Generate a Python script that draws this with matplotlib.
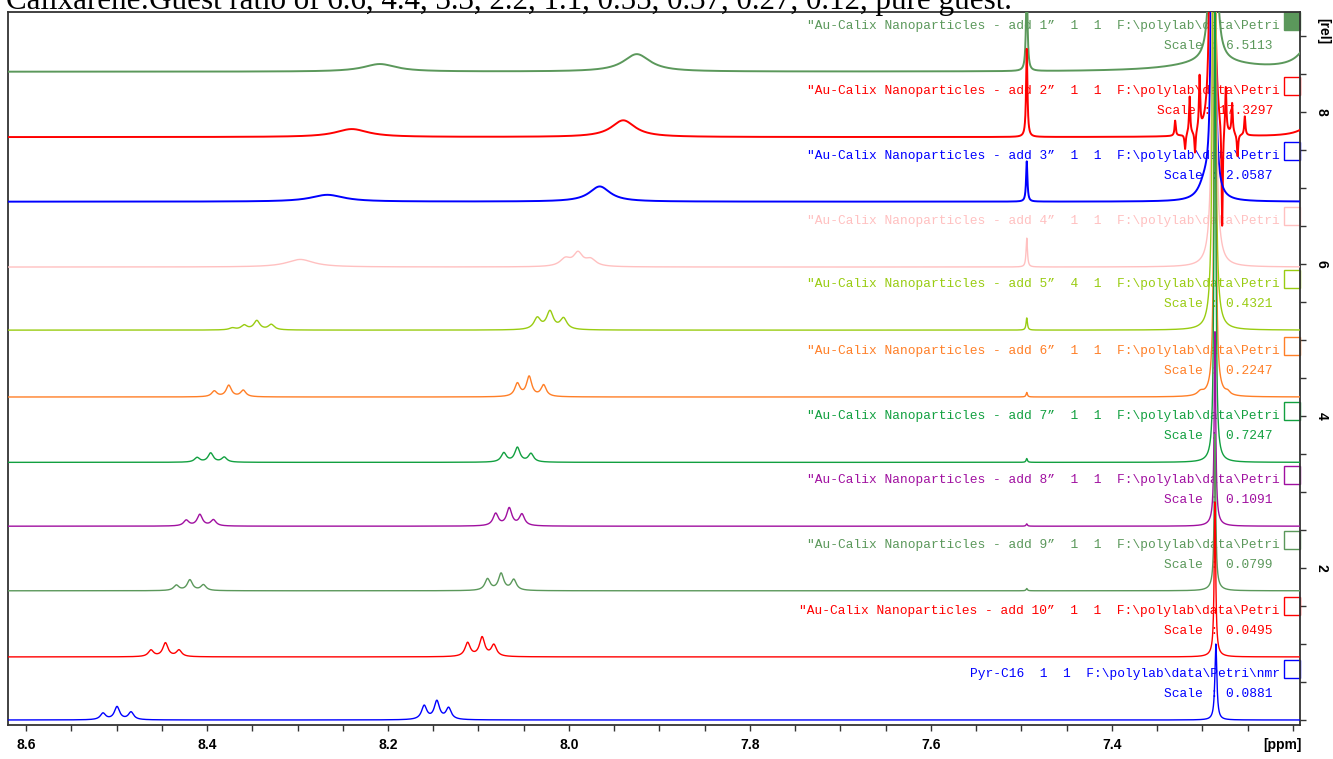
import numpy as np
import matplotlib.pyplot as plt
from matplotlib.patches import Rectangle
from matplotlib.ticker import MultipleLocator, FixedLocator, FormatStrFormatter

# titulo (cortado arriba en la imagen original)
title = 'Calixarene:Guest ratio of 6.6, 4.4, 3.3, 2.2, 1.1, 0.55, 0.37, 0.27, 0.12, pure guest.'

names = ['"Au-Calix Nanoparticles - add 1\u201d', '"Au-Calix Nanoparticles - add 2\u201d',
         '"Au-Calix Nanoparticles - add 3\u201d', '"Au-Calix Nanoparticles - add 4\u201d',
         '"Au-Calix Nanoparticles - add 5\u201d', '"Au-Calix Nanoparticles - add 6\u201d',
         '"Au-Calix Nanoparticles - add 7\u201d', '"Au-Calix Nanoparticles - add 8\u201d',
         '"Au-Calix Nanoparticles - add 9\u201d', '"Au-Calix Nanoparticles - add 10\u201d',
         'Pyr-C16']
expnos = ['1  1', '1  1', '1  1', '1  1', '4  1', '1  1', '1  1', '1  1', '1  1', '1  1', '1  1']
paths = ['F:\\polylab\\data\\Petri'] * 10 + ['F:\\polylab\\data\\Petri\\nmr']
scales = ['6.5113', '17.3297', '2.0587', '', '0.4321', '0.2247', '0.7247',
          '0.1091', '0.0799', '0.0495', '0.0881']
offsets = [8.53, 7.67, 6.82, 5.96, 5.13, 4.25, 3.39, 2.55, 1.70, 0.83, 0.0]
colors = ['#5b985b', '#ff0000', '#0000ff', '#ffc0c0', '#99cc11', '#ff7f27',
          '#12a040', '#a010a0', '#5b985b', '#ff0000', '#0000ff']
widths = [1.4, 1.4, 1.4, 1.0, 1.0, 1.0, 1.0, 1.0, 1.0, 1.0, 1.0]
xticks_ppm = [8.6, 8.4, 8.2, 8.0, 7.8, 7.6, 7.4]

# picos: (ppm, altura, semiancho)
pk_add1 = [(8.209, 0.10, 0.022), (7.925, 0.23, 0.018), (7.494, 1.2, 0.0010),
           (7.288, 30.0, 0.0010), (7.288, 0.12, 0.05), (7.17, 0.96, 0.012)]
pk_add2 = [(8.240, 0.105, 0.022), (7.940, 0.22, 0.016), (7.494, 1.16, 0.0009),
           (7.289, 30.0, 0.0009), (7.330, 0.2, 0.0008), (7.319, -0.2, 0.0008),
           (7.314, 0.5, 0.0008), (7.308, -0.3, 0.0008), (7.303, 0.7, 0.0008),
           (7.278, -1.4, 0.0008), (7.274, 0.6, 0.0008), (7.267, 0.4, 0.0008),
           (7.261, -0.3, 0.0008), (7.253, 0.25, 0.0008), (7.17, 0.4, 0.012)]
pk_add3 = [(8.267, 0.09, 0.022), (7.966, 0.20, 0.014), (7.494, 0.53, 0.0009),
           (7.288, 30.0, 0.0008), (7.297, 0.22, 0.008)]
pk_add4 = [(8.297, 0.10, 0.018), (8.004, 0.10, 0.007), (7.990, 0.17, 0.006),
           (7.976, 0.09, 0.007), (7.494, 0.38, 0.0009), (7.287, 30.0, 0.0008),
           (7.287, 0.2, 0.006)]
pk_add5 = [(8.372, 0.025, 0.004), (8.359, 0.06, 0.004), (8.345, 0.12, 0.004),
           (8.329, 0.07, 0.004), (8.035, 0.15, 0.0045), (8.021, 0.235, 0.0045),
           (8.006, 0.145, 0.0045), (7.494, 0.16, 0.0009), (7.287, 30.0, 0.0007),
           (7.287, 0.2, 0.005)]
pk_add6 = [(8.392, 0.075, 0.0035), (8.376, 0.15, 0.0035), (8.360, 0.085, 0.0035),
           (8.057, 0.17, 0.0035), (8.044, 0.26, 0.0035), (8.028, 0.15, 0.0035),
           (7.494, 0.06, 0.0009), (7.286, 8.0, 0.0010), (7.286, 0.12, 0.006),
           (7.302, 0.05, 0.004), (7.272, 0.04, 0.003)]
pk_add7 = [(8.411, 0.06, 0.0035), (8.396, 0.12, 0.0035), (8.381, 0.065, 0.0035),
           (8.072, 0.12, 0.0035), (8.057, 0.19, 0.0035), (8.042, 0.11, 0.0035),
           (7.494, 0.05, 0.0009), (7.286, 7.0, 0.0010), (7.286, 0.06, 0.006)]
pk_add8 = [(8.423, 0.075, 0.0035), (8.408, 0.15, 0.0035), (8.393, 0.08, 0.0035),
           (8.081, 0.16, 0.0035), (8.066, 0.23, 0.0035), (8.052, 0.15, 0.0035),
           (7.494, 0.03, 0.0009), (7.286, 2.5, 0.0010), (7.286, 0.06, 0.006)]
pk_add9 = [(8.434, 0.07, 0.0035), (8.419, 0.14, 0.0035), (8.404, 0.075, 0.0035),
           (8.090, 0.15, 0.0035), (8.075, 0.22, 0.0035), (8.061, 0.14, 0.0035),
           (7.494, 0.03, 0.0009), (7.286, 2.0, 0.0010), (7.286, 0.06, 0.006)]
pk_add10 = [(8.462, 0.085, 0.0035), (8.446, 0.18, 0.0035), (8.431, 0.085, 0.0035),
            (8.112, 0.18, 0.0035), (8.096, 0.25, 0.0035), (8.083, 0.15, 0.0035),
            (7.286, 2.0, 0.0010), (7.286, 0.04, 0.006)]
pk_pyr = [(8.515, 0.085, 0.0035), (8.4995, 0.17, 0.0035), (8.484, 0.10, 0.0035),
          (8.160, 0.18, 0.0035), (8.146, 0.24, 0.0035), (8.133, 0.15, 0.0035),
          (7.285, 1.0, 0.0013)]
peaks = [pk_add1, pk_add2, pk_add3, pk_add4, pk_add5, pk_add6,
         pk_add7, pk_add8, pk_add9, pk_add10, pk_pyr]

ppm = np.linspace(8.62, 7.19, 9000)


def espectro(x, lista):
    # suma de lorentzianas
    y = np.zeros_like(x)
    for pos, h, w in lista:
        y += h * w**2 / ((x - pos)**2 + w**2)
    return y


fig = plt.figure(figsize=(13.33, 7.59), dpi=100)
ax = fig.add_axes([8 / 1333, 34 / 759, 1292 / 1333, 713 / 759])

for i in range(len(peaks)):
    off = offsets[i]
    c = colors[i]
    ax.plot(ppm, off + espectro(ppm, peaks[i]), color=c, lw=widths[i], zorder=3 + i)
    linea = names[i] + '  ' + expnos[i] + '  ' + paths[i]
    ax.text(7.2144, off + 0.605, linea, ha='right', va='center', color=c,
            family='Liberation Mono', fontsize=9.3, zorder=1)
    if scales[i]:
        ax.text(7.2221, off + 0.342, 'Scale : ' + scales[i], ha='right', va='center',
                color=c, family='Liberation Mono', fontsize=9.3, zorder=1)
    caja = Rectangle((7.192, off + 0.553), 0.0179, 0.237, facecolor=c if i == 0 else 'white',
                     edgecolor=c, lw=1.0, clip_on=False, zorder=2)
    ax.add_patch(caja)

ax.set_xlim(8.62, 7.192)
ax.set_ylim(-0.066, 9.316)

ax.xaxis.set_major_locator(FixedLocator(xticks_ppm))
ax.xaxis.set_minor_locator(MultipleLocator(0.05))
ax.xaxis.set_major_formatter(FormatStrFormatter('%.1f'))
ax.yaxis.tick_right()
ax.set_yticks([2, 4, 6, 8])
ax.yaxis.set_minor_locator(MultipleLocator(0.5))
ax.tick_params(axis='both', which='both', direction='out', length=4.5, width=1.0,
               color='#333333')
ax.tick_params(axis='x', which='major', pad=5)
ax.tick_params(axis='y', which='major', pad=6)
for lab in ax.get_xticklabels():
    lab.set_fontfamily('Liberation Sans')
    lab.set_fontweight('bold')
    lab.set_fontsize(10)
for lab in ax.get_yticklabels():
    lab.set_fontfamily('Liberation Sans')
    lab.set_fontweight('bold')
    lab.set_fontsize(10)
    lab.set_rotation(-90)
    lab.set_va('center')
for s in ax.spines.values():
    s.set_color('#333333')
    s.set_linewidth(1.3)

fig.text(1282 / 1333, 1 - 745 / 759, '[ppm]', ha='center', va='center',
         family='Liberation Sans', weight='bold', fontsize=10)
fig.text(1323 / 1333, 1 - 31 / 759, '[rel]', ha='center', va='center', rotation=-90,
         family='Liberation Sans', weight='bold', fontsize=10)

t = fig.text(6 / 1333, 1 - 9.5 / 759, title, ha='left', va='baseline',
             family='Liberation Serif', fontsize=20)
fig.canvas.draw()
ancho = t.get_window_extent(fig.canvas.get_renderer()).width
t.set_fontsize(20 * 1008 / ancho)

plt.savefig('out.png', dpi=100)
